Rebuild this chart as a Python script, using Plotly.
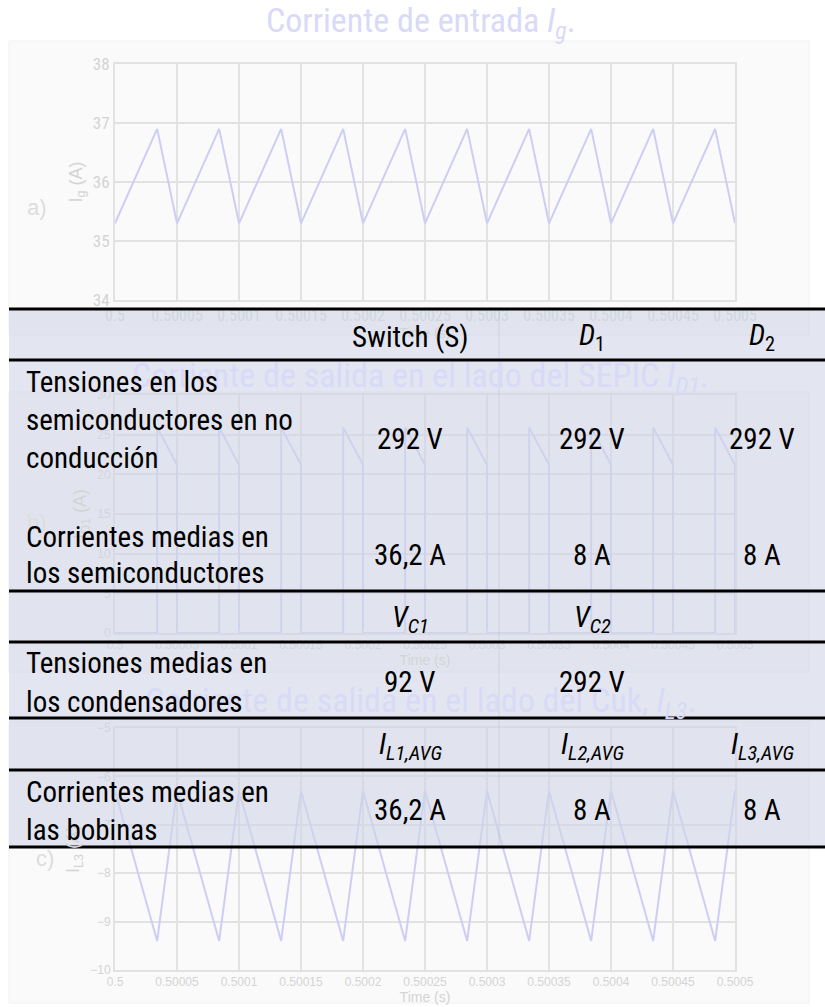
import plotly.graph_objects as go

W, H = 825, 1007
def px(x):
    return x / W
def py(y):
    return 1 - y / H

# ---------------- data ----------------
x_tick_vals = [0.5, 0.50005, 0.5001, 0.50015, 0.5002, 0.50025, 0.5003, 0.50035, 0.5004, 0.50045, 0.5005]
x_tick_text = ["0.5", "0.50005", "0.5001", "0.50015", "0.5002", "0.50025", "0.5003",
               "0.50035", "0.5004", "0.50045", "0.5005"]

# a) input current Ig (vertices of the triangular ripple)
t_ig = [0.5, 0.500034, 0.50005, 0.500084, 0.5001, 0.500134, 0.50015, 0.500184, 0.5002, 0.500234,
        0.50025, 0.500284, 0.5003, 0.500334, 0.50035, 0.500384, 0.5004, 0.500434, 0.50045, 0.500484, 0.5005]
ig = [35.3, 36.9, 35.3, 36.9, 35.3, 36.9, 35.3, 36.9, 35.3, 36.9,
      35.3, 36.9, 35.3, 36.9, 35.3, 36.9, 35.3, 36.9, 35.3, 36.9, 35.3]

# b) SEPIC side output current ID1
t_id1 = [0.5, 0.500034, 0.500034, 0.50005, 0.50005,
         0.500084, 0.500084, 0.5001, 0.5001,
         0.500134, 0.500134, 0.50015, 0.50015,
         0.500184, 0.500184, 0.5002, 0.5002,
         0.500234, 0.500234, 0.50025, 0.50025,
         0.500284, 0.500284, 0.5003, 0.5003,
         0.500334, 0.500334, 0.50035, 0.50035,
         0.500384, 0.500384, 0.5004, 0.5004,
         0.500434, 0.500434, 0.50045, 0.50045,
         0.500484, 0.500484, 0.5005, 0.5005]
id1 = [0, 0, 25.9, 21.2, 0,
       0, 25.9, 21.2, 0,
       0, 25.9, 21.2, 0,
       0, 25.9, 21.2, 0,
       0, 25.9, 21.2, 0,
       0, 25.9, 21.2, 0,
       0, 25.9, 21.2, 0,
       0, 25.9, 21.2, 0,
       0, 25.9, 21.2, 0,
       0, 25.9, 21.2, 0]

# c) Cuk side output current IL3
t_il3 = [0.5, 0.500034, 0.50005, 0.500084, 0.5001, 0.500134, 0.50015, 0.500184, 0.5002, 0.500234,
         0.50025, 0.500284, 0.5003, 0.500334, 0.50035, 0.500384, 0.5004, 0.500434, 0.50045, 0.500484, 0.5005]
il3 = [-6.3, -9.4, -6.3, -9.4, -6.3, -9.4, -6.3, -9.4, -6.3, -9.4,
       -6.3, -9.4, -6.3, -9.4, -6.3, -9.4, -6.3, -9.4, -6.3, -9.4, -6.3]

# table
col_headers_1 = ["Switch (S)", "<i>D</i><sub>1</sub>", "<i>D</i><sub>2</sub>"]
row_1_label = ["Tensiones en los", "semiconductores en no", "conducción"]
row_1_values = ["292 V", "292 V", "292 V"]
row_2_label = ["Corrientes medias en", "los semiconductores"]
row_2_values = ["36,2 A", "8 A", "8 A"]
col_headers_2 = ["<i>V<sub>C1</sub></i>", "<i>V<sub>C2</sub></i>", ""]
row_3_label = ["Tensiones medias en", "los condensadores"]
row_3_values = ["92 V", "292 V", ""]
col_headers_3 = ["<i>I<sub>L1,AVG</sub></i>", "<i>I<sub>L2,AVG</sub></i>", "<i>I<sub>L3,AVG</sub></i>"]
row_4_label = ["Corrientes medias en", "las bobinas"]
row_4_values = ["36,2 A", "8 A", "8 A"]

# ---------------- styling ----------------
NARROW = "Liberation Sans Narrow, Arial Narrow, Roboto Condensed, DejaVu Sans Condensed, sans-serif"
SANS = "Liberation Sans, Arial, sans-serif"
TRACE_C = "#cdcdf5"
TITLE_C = "#d9d9f8"
GRID_C = "#e2e2e2"
TICK_C = "#d4d4d4"

fig = go.Figure()
fig.add_trace(go.Scatter(x=t_ig, y=ig, mode="lines", line=dict(color=TRACE_C, width=2),
                         xaxis="x", yaxis="y", showlegend=False, hoverinfo="skip"))
fig.add_trace(go.Scatter(x=t_id1, y=id1, mode="lines", line=dict(color=TRACE_C, width=2),
                         xaxis="x2", yaxis="y2", showlegend=False, hoverinfo="skip"))
fig.add_trace(go.Scatter(x=t_il3, y=il3, mode="lines", line=dict(color=TRACE_C, width=2),
                         xaxis="x3", yaxis="y3", showlegend=False, hoverinfo="skip"))

xdom = [px(115), px(735)]
def xax(anchor, fam, fs):
    return dict(domain=xdom, anchor=anchor, range=[0.5, 0.5005], tickvals=x_tick_vals,
                ticktext=x_tick_text, showgrid=True, gridcolor=GRID_C, gridwidth=2,
                showline=True, linecolor=GRID_C, linewidth=2, mirror=True, automargin=False,
                ticks="inside", ticklen=5, tickcolor=GRID_C,
                tickfont=dict(family=fam, size=fs, color=TICK_C), zeroline=False,
                title=dict(text="Time (s)", font=dict(family=SANS, size=14, color=TICK_C), standoff=2))

def yax(anchor, dom, rng, dt, title, fam, fs):
    return dict(domain=dom, anchor=anchor, range=rng, dtick=dt, showgrid=True, gridcolor=GRID_C,
                gridwidth=2, showline=True, linecolor=GRID_C, linewidth=2, mirror=True, automargin=False,
                ticks="inside", ticklen=5, tickcolor=GRID_C, zeroline=False,
                tickfont=dict(family=fam, size=fs, color=TICK_C),
                title=dict(text=title, font=dict(family=SANS, size=18, color=TICK_C), standoff=6))

fig.update_layout(
    width=W, height=H, margin=dict(l=0, r=0, t=0, b=0, autoexpand=False),
    paper_bgcolor="white", plot_bgcolor="white",
    xaxis=xax("y", NARROW, 16),
    yaxis=yax("x", [py(300), py(64)], [34, 38], 1, "I<sub>g</sub> (A)", NARROW, 17),
    xaxis2=xax("y2", SANS, 12),
    yaxis2=yax("x2", [py(633), py(395)], [0, 30], 5, "I<sub>D1</sub> (A)", SANS, 12),
    xaxis3=xax("y3", SANS, 12),
    yaxis3=yax("x3", [py(970), py(728)], [-10, -5], 1, "I<sub>L3</sub> (A)", SANS, 12),
)

shapes = []
# panel backgrounds
for (y0, y1) in [(41, 335), (392, 672), (722, 1003)]:
    shapes.append(dict(type="rect", xref="paper", yref="paper", x0=px(9), x1=px(809),
                       y0=py(y1), y1=py(y0), fillcolor="#fafafa", line=dict(color="#f1f1f1", width=1),
                       layer="below"))
# table background
shapes.append(dict(type="rect", xref="paper", yref="paper", x0=px(9), x1=px(825),
                   y0=py(847), y1=py(309), fillcolor="rgba(208,214,230,0.6)", line=dict(width=0),
                   layer="above"))
# faint column divider
shapes.append(dict(type="line", xref="paper", yref="paper", x0=px(499), x1=px(499),
                   y0=py(847), y1=py(309), line=dict(color="rgba(175,178,195,0.35)", width=1),
                   layer="above"))
# table rules
for yl in [309, 360, 591, 642, 718, 770, 847]:
    shapes.append(dict(type="line", xref="paper", yref="paper", x0=px(9), x1=px(825),
                       y0=py(yl), y1=py(yl), line=dict(color="black", width=3), layer="above"))
fig.update_layout(shapes=shapes)

ann = []
def text(x, y, s, size, color, family=NARROW, xanchor="center"):
    ann.append(dict(x=px(x), y=py(y), xref="paper", yref="paper", text=s, showarrow=False,
                    xanchor=xanchor, yanchor="middle", font=dict(family=family, size=size, color=color)))

# chart titles
text(421, 22, "Corriente de entrada <i>I<sub>g</sub></i>.", 34, TITLE_C)
text(421, 377, "Corriente de salida en el lado del SEPIC <i>I<sub>D1</sub></i>.", 34, TITLE_C)
text(421, 702, "Corriente de salida en el lado del Cuk, <i>I<sub>L3</sub></i>.", 34, TITLE_C)
# panel letters
text(37, 208, "a)", 22, "#dddddd", SANS)
text(37, 522, "b)", 22, "#dddddd", SANS)
text(45, 858, "c)", 22, "#dddddd", SANS)

col_x = [410, 592, 762]
TS = 29
def row(label_lines, label_ys, values, val_y):
    for s, yy in zip(label_lines, label_ys):
        text(24, yy, s, TS, "black", xanchor="left")
    for s, xx in zip(values, col_x):
        if s:
            text(xx, val_y, s, TS, "black")

for s, xx in zip(col_headers_1, col_x):
    text(xx, 337, s, TS, "black")
row(row_1_label, [382, 420, 458], row_1_values, 439)
row(row_2_label, [537, 573], row_2_values, 555)
for s, xx in zip(col_headers_2, col_x):
    if s:
        text(xx, 619, s, TS, "black")
row(row_3_label, [663, 702], row_3_values, 682)
for s, xx in zip(col_headers_3, col_x):
    text(xx, 746, s, TS, "black")
row(row_4_label, [792, 830], row_4_values, 810)

fig.update_layout(annotations=ann)
fig.write_html("out.html", config={"displayModeBar": False},
               post_script="document.body.style.margin='0';")
